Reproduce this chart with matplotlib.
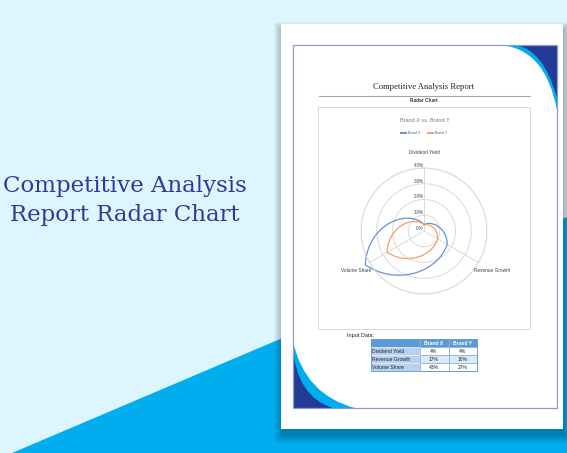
import numpy as np
import matplotlib
matplotlib.use("Agg")
import matplotlib.pyplot as plt
from matplotlib.patches import Rectangle, Polygon, PathPatch
from matplotlib.path import Path

# ---------------- data ----------------
categories = ["Dividend Yield", "Revenue Growth", "Volume Share"]
series_names = ["Brand X", "Brand Y"]
brand_x = [0.04, 0.17, 0.43]
brand_y = [0.04, 0.10, 0.27]
ring_values = [0.0, 0.1, 0.2, 0.3, 0.4]
ring_labels = ["0%", "10%", "20%", "30%", "40%"]
table_x = ["4%", "17%", "43%"]
table_y = ["4%", "10%", "27%"]

W, H = 567, 453
LIGHT = '#ddf6fe'
CYAN = '#00aeef'
NAVY = '#233b96'
BLUE = '#6990d8'
ORANGE = '#f4a068'
SANS = ['Liberation Sans', 'DejaVu Sans']

fig = plt.figure(figsize=(W / 100, H / 100), dpi=100)
bg = fig.add_axes([0, 0, 1, 1])
bg.set_xlim(0, W)
bg.set_ylim(H, 0)
bg.axis('off')

# background
bg.add_patch(Rectangle((0, 0), W, H, color=LIGHT, lw=0, zorder=0))
bg.add_patch(Polygon([(12, 453), (567, 217), (567, 453)], closed=True,
                     color=CYAN, lw=0, zorder=1))

# page shadow + page
for k in range(9):
    s = k * 1.0
    bg.add_patch(Rectangle((281 + 1 - s, 24 + 6 - s), 282 + 2 * s, 405 + 2 * s,
                           color='black', alpha=0.03, lw=0, zorder=2))
bg.add_patch(Rectangle((281, 24), 282, 405, color='white', lw=0, zorder=3))

# corner decorations
def corner(p0, c, p1, corner_pt, color):
    verts = [p0, c, p1, corner_pt, p0]
    codes = [Path.MOVETO, Path.CURVE3, Path.CURVE3, Path.LINETO, Path.CLOSEPOLY]
    bg.add_patch(PathPatch(Path(verts, codes), facecolor=color, lw=0, zorder=4))

corner((498, 45), (545, 47), (557, 110), (557, 45), CYAN)
corner((514, 45), (543, 48), (557, 98), (557, 45), NAVY)
corner((293, 341.5), (305, 395), (355, 408), (293, 408), CYAN)
corner((293, 348), (297, 397), (333, 408), (293, 408), NAVY)

# page border
bg.add_patch(Rectangle((293, 45), 264, 363, fill=False, ec='#8e9cc6',
                       lw=0.9, zorder=6))

# left big title
bg.text(125, 186, "Competitive Analysis", ha='center', va='center',
        fontsize=16.5, family='DejaVu Serif', color='#2b3c96', zorder=5)
bg.text(125, 215, "Report Radar Chart", ha='center', va='center',
        fontsize=16.5, family='DejaVu Serif', color='#2b3c96', zorder=5)

# document header
bg.text(424, 87, "Competitive Analysis Report", ha='center', va='center',
        fontsize=6.2, family='Liberation Serif', color='#222222', zorder=7)
bg.plot([319, 530], [96, 96], color='#a6a6a6', lw=0.8, zorder=7)
bg.text(424, 101, "Radar Chart", ha='center', va='center', fontsize=3.4,
        family=SANS, weight='bold', color='#333333', zorder=7)

# chart box
bg.add_patch(Rectangle((318, 107), 212, 222, fill=False, ec='#d9d9d9',
                       lw=0.7, zorder=7))
bg.text(425, 120, "Brand X vs. Brand Y", ha='center', va='center',
        fontsize=4.0, family=SANS, color='#7a7a7a', zorder=7)

# ---------------- radar ----------------
cx, cy, R = 424, 231, 63
ax = fig.add_axes([(cx - R) / W, (H - cy - R) / H, 2 * R / W, 2 * R / H],
                  projection='polar')
ax.set_facecolor('none')
ax.set_theta_offset(np.pi / 2)
ax.set_theta_direction(-1)
ax.set_ylim(0, ring_values[-1])
n_cat = len(categories)
cat_theta = np.arange(n_cat) * 2 * np.pi / n_cat
ax.set_thetagrids(np.degrees(cat_theta), labels=[''] * n_cat)
ax.set_rgrids(ring_values[1:], labels=[''] * (len(ring_values) - 1))
ax.grid(True, color='#d9d9d9', lw=0.7)
ax.spines['polar'].set_color('#d9d9d9')
ax.spines['polar'].set_linewidth(0.7)
ax.tick_params(length=0, pad=0)


def smooth_loop(values, alpha=0.72, n=60):
    k = len(values)
    v = list(values) + [values[0]]
    t = list(cat_theta) + [2 * np.pi]
    th_all, r_all = [], []
    for i in range(k):
        f = np.linspace(0, 1, n)
        a = t[i] + f * (t[i + 1] - t[i])
        rp = v[i] + f * (v[i + 1] - v[i])
        xp, yp = rp * np.sin(a), rp * np.cos(a)
        x0, y0 = v[i] * np.sin(t[i]), v[i] * np.cos(t[i])
        x1, y1 = v[i + 1] * np.sin(t[i + 1]), v[i + 1] * np.cos(t[i + 1])
        xc, yc = x0 + f * (x1 - x0), y0 + f * (y1 - y0)
        x = alpha * xp + (1 - alpha) * xc
        y = alpha * yp + (1 - alpha) * yc
        th_all.append(np.arctan2(x, y))
        r_all.append(np.hypot(x, y))
    return np.unwrap(np.concatenate(th_all)), np.concatenate(r_all)


handles = []
for vals, name, col in [(brand_x, series_names[0], BLUE),
                        (brand_y, series_names[1], ORANGE)]:
    th, rr = smooth_loop(vals)
    h, = ax.plot(th, rr, color=col, lw=0.9, clip_on=False, label=name,
                 solid_joinstyle='round')
    handles.append(h)

for v, lbl in zip(ring_values, ring_labels):
    ax.text(0, v, lbl + ' ', ha='right', va='bottom', fontsize=3.3,
            family=SANS, color='#404040')
for th, lbl in zip(cat_theta, categories):
    ax.text(th, 0.5, lbl, ha='center', va='center', fontsize=3.4,
            family=SANS, color='#404040')

leg = fig.legend(handles=handles, loc='center',
                 bbox_to_anchor=(424 / W, 1 - 133 / H),
                 ncol=2, frameon=False, handlelength=1.7,
                 columnspacing=2.2, handletextpad=0.5,
                 prop={'family': SANS, 'size': 2.4})
for t in leg.get_texts():
    t.set_color('#595959')
for ln in leg.get_lines():
    ln.set_linewidth(1.4)

# ---------------- input table ----------------
bg.text(347, 335, "Input Data:", ha='left', va='center', fontsize=4.0,
        family=SANS, color='#222222', zorder=7)
col_edges = [371, 419.5, 448.5, 477]
row_edges = [339, 347, 355, 363, 371]
header = ["", series_names[0], series_names[1]]
for j in range(3):
    bg.add_patch(Rectangle((col_edges[j], row_edges[0]),
                           col_edges[j + 1] - col_edges[j], row_edges[1] - row_edges[0],
                           facecolor='#5b9bd5', ec='#8fb8e2', lw=0.5, zorder=7))
    if header[j]:
        bg.text((col_edges[j] + col_edges[j + 1]) / 2,
                (row_edges[0] + row_edges[1]) / 2 + 0.3, header[j],
                ha='center', va='center', fontsize=3.6, family=SANS,
                weight='bold', color='white', zorder=8)
for i, (lab, vx, vy) in enumerate(zip(categories, table_x, table_y)):
    y0, y1 = row_edges[i + 1], row_edges[i + 2]
    ym = (y0 + y1) / 2 + 0.3
    bg.add_patch(Rectangle((col_edges[0], y0), col_edges[1] - col_edges[0], y1 - y0,
                           facecolor='#b7d2ef', ec='#e8f0fa', lw=0.5, zorder=7))
    vfill = '#dce9f7' if i == 1 else 'white'
    for j, val in zip([1, 2], [vx, vy]):
        bg.add_patch(Rectangle((col_edges[j], y0), col_edges[j + 1] - col_edges[j],
                               y1 - y0, facecolor=vfill, ec='#7fa9dc', lw=0.5,
                               zorder=7))
        bg.text((col_edges[j] + col_edges[j + 1]) / 2, ym, val, ha='center',
                va='center', fontsize=3.6, family=SANS, color='#222222', zorder=8)
    bg.text(col_edges[0] + 1.5, ym, lab, ha='left', va='center', fontsize=3.6,
            family=SANS, color='#222222', zorder=8)

bg.add_patch(Rectangle((col_edges[0], row_edges[0]), col_edges[-1] - col_edges[0],
                       row_edges[-1] - row_edges[0], fill=False, ec='#5b9bd5',
                       lw=0.6, zorder=8))

fig.savefig('out.png', dpi=100)
